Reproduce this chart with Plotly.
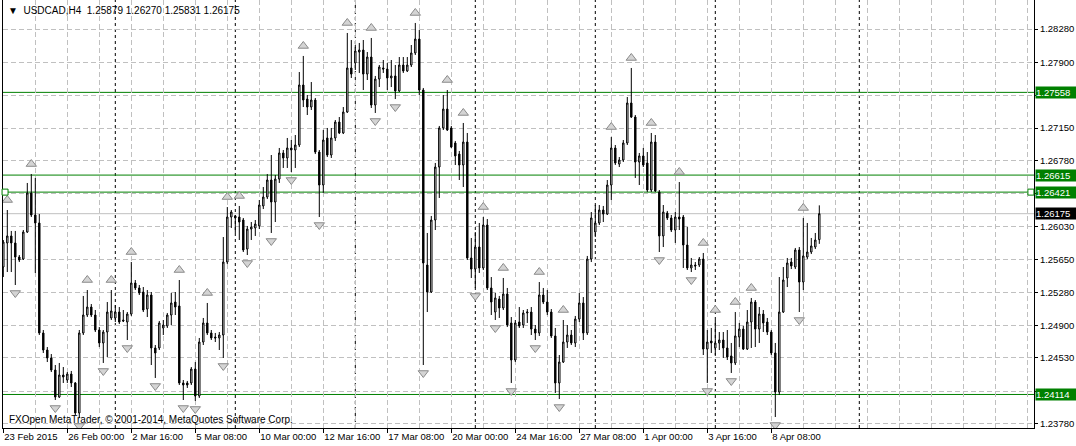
import plotly.graph_objects as go

# ---------------- data (H4 bars, index 0 = 23 Feb 2015 08:00) ----------------
bar_index = list(range(-2, 205))

open_ = [1.25761, 1.25818,
 1.25567, 1.25841, 1.25921, 1.25841, 1.25681, 1.25658, 1.25966, 1.26411, 1.26160, 1.26069,
 1.24815, 1.24621, 1.24530, 1.24393, 1.24085, 1.24336, 1.24279, 1.24347, 1.24245, 1.23903,
 1.24815, 1.25020, 1.25111, 1.25020, 1.24849, 1.24701, 1.24826, 1.24986, 1.24986, 1.25054,
 1.24963, 1.24940, 1.25031, 1.25385, 1.25328, 1.25282, 1.25088, 1.25248, 1.24644, 1.24644,
 1.24872, 1.24895, 1.25020, 1.25168, 1.25123, 1.24245, 1.24245, 1.24245, 1.24404, 1.24097,
 1.24712, 1.24929, 1.24815, 1.24769, 1.24758, 1.24792, 1.25624, 1.26137, 1.26149, 1.26137,
 1.26103, 1.25772, 1.26000, 1.26012, 1.26035, 1.26263, 1.26365, 1.26559, 1.26308, 1.26570,
 1.26867, 1.26810, 1.26924, 1.26901, 1.26958, 1.27642, 1.27482, 1.27391, 1.27471, 1.26878,
 1.26502, 1.27038, 1.26844, 1.27038, 1.27220, 1.27095, 1.27334, 1.27836, 1.27893, 1.28018,
 1.28041, 1.27767, 1.27961, 1.27414, 1.27710, 1.27836, 1.27824, 1.27722, 1.27745, 1.27574,
 1.27870, 1.27802, 1.27870, 1.28007, 1.28166, 1.27585, 1.25590, 1.25282, 1.26103, 1.26707,
 1.27152, 1.27368, 1.27152, 1.26981, 1.26855, 1.26730, 1.26992, 1.25670, 1.25544, 1.25795,
 1.25556, 1.26046, 1.25328, 1.25054, 1.25202, 1.25100, 1.25259, 1.24929, 1.24507, 1.24940,
 1.24906, 1.25043, 1.25054, 1.24860, 1.24815, 1.25248, 1.25168, 1.25054, 1.24781, 1.24245,
 1.24484, 1.24712, 1.24792, 1.24701, 1.24974, 1.25157, 1.24815, 1.25658, 1.25966, 1.26069,
 1.26217, 1.26171, 1.26502, 1.26924, 1.26741, 1.26787, 1.26981, 1.27437, 1.27277, 1.26764,
 1.26833, 1.26753, 1.26445, 1.26992, 1.26422, 1.25921, 1.26183, 1.26126, 1.25989, 1.26137,
 1.26137, 1.25818, 1.25556, 1.25590, 1.25590, 1.25658, 1.24632, 1.24724, 1.24644, 1.24701,
 1.24735, 1.24644, 1.24553, 1.24473, 1.24769, 1.24860, 1.24632, 1.24940, 1.25168, 1.24860,
 1.25031, 1.24940, 1.24826, 1.24587, 1.24142, 1.25054, 1.25442, 1.25624, 1.25567, 1.25761,
 1.25396, 1.25681, 1.25738, 1.25795, 1.25879]

high = [1.26046, 1.26080,
 1.25875, 1.26217, 1.25978, 1.25978, 1.25704, 1.25989, 1.26525, 1.26627, 1.26582, 1.26171,
 1.24849, 1.24655, 1.24575, 1.24450, 1.24473, 1.24427, 1.24370, 1.24382, 1.24256, 1.24849,
 1.25237, 1.25305, 1.25145, 1.25077, 1.24883, 1.24849, 1.25168, 1.25305, 1.25134, 1.25111,
 1.25077, 1.25054, 1.25624, 1.25419, 1.25362, 1.25339, 1.25305, 1.25282, 1.24678, 1.24952,
 1.24963, 1.25043, 1.25271, 1.25282, 1.25419, 1.24279, 1.24268, 1.24427, 1.24484, 1.24758,
 1.24986, 1.25157, 1.24849, 1.24815, 1.24826, 1.25909, 1.26251, 1.26217, 1.26160, 1.26263,
 1.26126, 1.26035, 1.26080, 1.26103, 1.26331, 1.26479, 1.26627, 1.26844, 1.26616, 1.26924,
 1.26901, 1.27038, 1.27015, 1.27072, 1.27790, 1.27973, 1.27528, 1.27676, 1.27494, 1.26901,
 1.27129, 1.27152, 1.27152, 1.27243, 1.27277, 1.27391, 1.28235, 1.28155, 1.28098, 1.28121,
 1.28155, 1.28018, 1.28178, 1.27745, 1.27870, 1.27927, 1.27893, 1.27927, 1.27870, 1.27961,
 1.27961, 1.27961, 1.28098, 1.28349, 1.28269, 1.27608, 1.25955, 1.26149, 1.26753, 1.27175,
 1.27528, 1.27585, 1.27175, 1.27004, 1.26890, 1.27209, 1.27095, 1.25898, 1.25966, 1.26069,
 1.26137, 1.26114, 1.25453, 1.25271, 1.25237, 1.25442, 1.25328, 1.24997, 1.24963, 1.25111,
 1.25077, 1.25088, 1.25111, 1.24906, 1.25396, 1.25328, 1.25305, 1.25088, 1.24872, 1.24564,
 1.24963, 1.24906, 1.24849, 1.25009, 1.25271, 1.25225, 1.25693, 1.26194, 1.26274, 1.26274,
 1.26263, 1.26559, 1.27049, 1.26958, 1.26821, 1.27015, 1.27505, 1.27836, 1.27300, 1.26867,
 1.26924, 1.26878, 1.27095, 1.27072, 1.26445, 1.26274, 1.26206, 1.26160, 1.26194, 1.26536,
 1.26160, 1.26023, 1.25670, 1.25624, 1.25681, 1.25727, 1.24849, 1.24872, 1.24963, 1.24826,
 1.24826, 1.24849, 1.24701, 1.25054, 1.24929, 1.24895, 1.25077, 1.25214, 1.25191, 1.25111,
 1.25077, 1.24986, 1.24849, 1.24701, 1.25453, 1.25567, 1.25670, 1.25670, 1.25784, 1.25795,
 1.26126, 1.26069, 1.25898, 1.25955, 1.26270]

low = [1.25704, 1.25419,
 1.25453, 1.25510, 1.25510, 1.25362, 1.25624, 1.25647, 1.25955, 1.26137, 1.25499, 1.24792,
 1.24587, 1.24484, 1.24370, 1.24051, 1.24074, 1.24245, 1.24245, 1.24199, 1.23880, 1.23846,
 1.24792, 1.24997, 1.24997, 1.24826, 1.24655, 1.24473, 1.24541, 1.24963, 1.24940, 1.24917,
 1.24940, 1.24735, 1.25009, 1.25305, 1.25248, 1.25054, 1.24997, 1.24450, 1.24302, 1.24621,
 1.24792, 1.24872, 1.24906, 1.25020, 1.24222, 1.24051, 1.24188, 1.24222, 1.24040, 1.24074,
 1.24678, 1.24792, 1.24735, 1.24712, 1.24621, 1.24530, 1.25601, 1.26012, 1.25955, 1.25875,
 1.25738, 1.25704, 1.25875, 1.25921, 1.26000, 1.26228, 1.26342, 1.25955, 1.26080, 1.26525,
 1.26696, 1.26696, 1.26650, 1.26696, 1.26935, 1.27391, 1.27300, 1.27357, 1.26855, 1.26137,
 1.26411, 1.26821, 1.26810, 1.27004, 1.27083, 1.27083, 1.27323, 1.27722, 1.27813, 1.27779,
 1.27585, 1.27699, 1.27380, 1.27323, 1.27619, 1.27779, 1.27585, 1.27619, 1.27482, 1.27562,
 1.27779, 1.27790, 1.27847, 1.27984, 1.27528, 1.24450, 1.25054, 1.25271, 1.25989, 1.26354,
 1.27129, 1.27118, 1.26924, 1.26730, 1.26559, 1.26479, 1.25647, 1.25442, 1.25328, 1.25499,
 1.25533, 1.25305, 1.25020, 1.24963, 1.24986, 1.25077, 1.24883, 1.24245, 1.24484, 1.24872,
 1.24872, 1.24929, 1.24792, 1.24735, 1.24781, 1.25145, 1.25020, 1.24758, 1.24131, 1.24062,
 1.24473, 1.24644, 1.24678, 1.24655, 1.24940, 1.24735, 1.24792, 1.25624, 1.25909, 1.26046,
 1.26080, 1.26160, 1.26331, 1.26730, 1.26707, 1.26764, 1.26958, 1.27266, 1.26582, 1.26502,
 1.26707, 1.26422, 1.26422, 1.26422, 1.25738, 1.25795, 1.26103, 1.25966, 1.25841, 1.25989,
 1.25556, 1.25533, 1.25510, 1.25533, 1.25567, 1.24564, 1.24245, 1.24587, 1.24564, 1.24621,
 1.24530, 1.24507, 1.24359, 1.24450, 1.24655, 1.24621, 1.24621, 1.24644, 1.24655, 1.24701,
 1.24826, 1.24792, 1.24564, 1.23857, 1.24108, 1.25043, 1.25339, 1.25544, 1.25544, 1.25054,
 1.25305, 1.25658, 1.25715, 1.25772, 1.25831]

close = [1.25818, 1.25590,
 1.25852, 1.25921, 1.25841, 1.25681, 1.25647, 1.25966, 1.26411, 1.26160, 1.26069, 1.24815,
 1.24621, 1.24530, 1.24393, 1.24085, 1.24336, 1.24313, 1.24347, 1.24245, 1.23903, 1.24815,
 1.25020, 1.25111, 1.25020, 1.24849, 1.24701, 1.24826, 1.25054, 1.25066, 1.25054, 1.24940,
 1.24952, 1.25031, 1.25385, 1.25328, 1.25271, 1.25077, 1.25248, 1.24644, 1.24587, 1.24929,
 1.24906, 1.25020, 1.25157, 1.25111, 1.24245, 1.24222, 1.24222, 1.24404, 1.24097, 1.24712,
 1.24929, 1.24815, 1.24758, 1.24758, 1.24792, 1.25624, 1.26137, 1.26194, 1.26126, 1.26080,
 1.25761, 1.26000, 1.26023, 1.26057, 1.26274, 1.26365, 1.26559, 1.26308, 1.26570, 1.26867,
 1.26810, 1.26924, 1.26901, 1.26958, 1.27642, 1.27471, 1.27391, 1.27471, 1.26878, 1.26502,
 1.27015, 1.26844, 1.27038, 1.27220, 1.27095, 1.27334, 1.27836, 1.27767, 1.28030, 1.28041,
 1.27767, 1.27961, 1.27414, 1.27710, 1.27847, 1.27824, 1.27722, 1.27745, 1.27574, 1.27870,
 1.27802, 1.27870, 1.28007, 1.28166, 1.27585, 1.25613, 1.25282, 1.26103, 1.26707, 1.27152,
 1.27368, 1.27129, 1.26935, 1.26833, 1.26730, 1.26992, 1.25670, 1.25544, 1.25795, 1.25556,
 1.26046, 1.25328, 1.25168, 1.25214, 1.25100, 1.25259, 1.24906, 1.24507, 1.24929, 1.24895,
 1.25043, 1.25054, 1.24860, 1.24815, 1.25248, 1.25168, 1.25054, 1.24781, 1.24245, 1.24484,
 1.24712, 1.24792, 1.24701, 1.24974, 1.25157, 1.24815, 1.25658, 1.26126, 1.26069, 1.26217,
 1.26171, 1.26502, 1.26924, 1.26753, 1.26787, 1.26981, 1.27437, 1.27277, 1.26764, 1.26833,
 1.26730, 1.26445, 1.26992, 1.26434, 1.25921, 1.26194, 1.26126, 1.25989, 1.26137, 1.26114,
 1.25818, 1.25556, 1.25590, 1.25579, 1.25658, 1.24632, 1.24712, 1.24701, 1.24701, 1.24735,
 1.24644, 1.24541, 1.24473, 1.24781, 1.24860, 1.24632, 1.24940, 1.25168, 1.24860, 1.25031,
 1.24929, 1.24826, 1.24587, 1.24142, 1.25054, 1.25419, 1.25613, 1.25579, 1.25761, 1.25396,
 1.25693, 1.25738, 1.25807, 1.25875, 1.26175]

# Bill Williams fractals (bar indices)
fractal_up_bars = [1, 7, 21, 27, 32, 44, 51, 56, 59, 75, 86, 92, 103, 111, 115, 120, 125,
                   134, 140, 152, 157, 162, 169, 175, 178, 183, 187, 200]
fractal_down_bars = [3, 13, 19, 25, 31, 38, 45, 48, 55, 61, 67, 72, 79, 93, 98, 105, 118,
                     123, 127, 133, 139, 164, 172, 176, 182, 193, 199]

# time axis labels (every 16 bars)
x_tick_bars = [0, 16, 32, 48, 64, 80, 96, 112, 128, 144, 160, 176, 192]
x_tick_text = ["23 Feb 2015", "26 Feb 00:00", "2 Mar 16:00", "5 Mar 08:00", "10 Mar 00:00",
               "12 Mar 16:00", "17 Mar 08:00", "20 Mar 00:00", "24 Mar 16:00", "27 Mar 08:00",
               "1 Apr 00:00", "3 Apr 16:00", "8 Apr 08:00"]
week_separator_bars = [28, 58, 88, 118, 148, 178, 214]

# price axis
y_tick_vals = [1.23780, 1.24150, 1.24530, 1.24900, 1.25280, 1.25650, 1.26030, 1.26400,
               1.26780, 1.27150, 1.27520, 1.27900, 1.28280]
y_tick_text = ["1.23780", "", "1.24530", "1.24900", "1.25280", "1.25650", "1.26030", "",
               "1.26780", "1.27150", "", "1.27900", "1.28280"]

green_levels = [1.27558, 1.26615, 1.26421, 1.24114]
bid_level = close[-1]

symbol_name = "USDCAD,H4"
copyright_text = "FXOpen MetaTrader, © 2001-2014, MetaQuotes Software Corp."

# ---------------- layout geometry ----------------
W, H = 1076, 446
M_L, M_R, M_T, M_B = 3, 42, 0, 18
PLOT_W = W - M_L - M_R
PLOT_H = H - M_T - M_B
X_MIN = -0.075
X_MAX = X_MIN + PLOT_W / 4.0
Y_MAX = 1.28611
Y_MIN = Y_MAX - 0.000114 * PLOT_H
PX = (Y_MAX - Y_MIN) / PLOT_H

FONT = "Liberation Sans, Arial, sans-serif"
FS = 9.5
GRID = "#c0c0c0"
GREEN = "#008000"

fig = go.Figure()

fig.add_trace(go.Candlestick(
    x=bar_index, open=open_, high=high, low=low, close=close,
    increasing=dict(line=dict(color="black", width=1), fillcolor="white"),
    decreasing=dict(line=dict(color="black", width=1), fillcolor="black"),
    whiskerwidth=0, hoverinfo="skip", showlegend=False,
))

pos = {b: k for k, b in enumerate(bar_index)}
fig.add_trace(go.Scatter(
    x=fractal_up_bars,
    y=[high[pos[b]] + 10 * PX for b in fractal_up_bars],
    mode="markers",
    marker=dict(symbol="triangle-up", size=9, color="#d4d4d4",
                line=dict(color="#8a8a8a", width=1)),
    hoverinfo="skip", showlegend=False,
))
fig.add_trace(go.Scatter(
    x=fractal_down_bars,
    y=[low[pos[b]] - 8 * PX for b in fractal_down_bars],
    mode="markers",
    marker=dict(symbol="triangle-down", size=9, color="#d4d4d4",
                line=dict(color="#8a8a8a", width=1)),
    hoverinfo="skip", showlegend=False,
))

shapes = []
for b in week_separator_bars:
    shapes.append(dict(type="line", xref="x", yref="paper", x0=b, x1=b, y0=0, y1=1,
                       line=dict(color="black", width=1, dash="3px,3px"), layer="between"))
shapes.append(dict(type="line", xref="paper", yref="y", x0=0, x1=1, y0=bid_level, y1=bid_level,
                   line=dict(color=GRID, width=1), layer="between"))
for lv in green_levels:
    shapes.append(dict(type="line", xref="paper", yref="y", x0=0, x1=1, y0=lv, y1=lv,
                       line=dict(color=GREEN, width=1), layer="between"))
# selection handles on the 1.26421 line
for xa in (0.002, 0.997):
    shapes.append(dict(type="rect", xref="paper", yref="y", xsizemode="pixel", ysizemode="pixel",
                       xanchor=xa, yanchor=green_levels[2], x0=-3, x1=3, y0=-3, y1=3,
                       line=dict(color=GREEN, width=1), fillcolor="white", layer="above"))

annotations = []
for lv in green_levels:
    annotations.append(dict(xref="paper", yref="y", x=1, y=lv, xanchor="left", yanchor="middle",
                            xshift=1, text=f"{lv:.5f}", showarrow=False, bgcolor=GREEN,
                            font=dict(family=FONT, size=FS, color="white"),
                            width=40, height=11, align="left", borderpad=0))
annotations.append(dict(xref="paper", yref="y", x=1, y=bid_level, xanchor="left", yanchor="middle",
                        xshift=1, text=f"{bid_level:.5f}", showarrow=False, bgcolor="black",
                        font=dict(family=FONT, size=FS, color="white"),
                        width=40, height=11, align="left", borderpad=0))
header = (f"▼&nbsp;&nbsp;{symbol_name}&nbsp;&nbsp;{open_[-1]:.5f} {high[-1]:.5f} "
          f"{low[-1]:.5f} {close[-1]:.5f}")
annotations.append(dict(xref="paper", yref="paper", x=0, y=1, xanchor="left", yanchor="top",
                        xshift=3, yshift=-3, text=header, showarrow=False,
                        font=dict(family=FONT, size=10, color="black")))
annotations.append(dict(xref="paper", yref="paper", x=0, y=0, xanchor="left", yanchor="bottom",
                        xshift=4, yshift=1, text=copyright_text, showarrow=False,
                        font=dict(family=FONT, size=10, color="black")))

minor_x = [v for v in range(8, 264, 8) if v not in x_tick_bars]

fig.update_layout(
    width=W, height=H,
    margin=dict(l=M_L, r=M_R, t=M_T, b=M_B, autoexpand=False),
    paper_bgcolor="white", plot_bgcolor="white",
    boxgap=0.5,
    shapes=shapes, annotations=annotations,
    showlegend=False,
    xaxis=dict(
        range=[X_MIN, X_MAX], autorange=False, fixedrange=True,
        rangeslider=dict(visible=False),
        tickmode="array", tickvals=x_tick_bars, ticktext=x_tick_text,
        ticklabelposition="outside right", tickangle=0, ticklabeloverflow="allow",
        ticks="outside", ticklen=4, tickcolor="black", tickwidth=1,
        showgrid=True, gridcolor=GRID, griddash="5px,3px", gridwidth=1,
        minor=dict(tickmode="array", tickvals=minor_x, showgrid=True, gridcolor=GRID,
                   griddash="5px,3px", gridwidth=1, ticks=""),
        showline=True, linecolor="black", linewidth=1, zeroline=False,
        tickfont=dict(family=FONT, size=FS, color="black"),
    ),
    yaxis=dict(
        range=[Y_MIN, Y_MAX], autorange=False, fixedrange=True, side="right",
        tickmode="array", tickvals=y_tick_vals, ticktext=y_tick_text,
        ticks="outside", ticklen=3, tickcolor="black", tickwidth=1,
        showgrid=True, gridcolor=GRID, griddash="5px,3px", gridwidth=1,
        showline=True, linecolor="black", linewidth=1, mirror=True, zeroline=False,
        tickfont=dict(family=FONT, size=FS, color="black"),
    ),
)

fig.write_html("out.html", config={"displayModeBar": False},
               post_script="document.body.style.margin='0';document.body.style.overflow='hidden';")
